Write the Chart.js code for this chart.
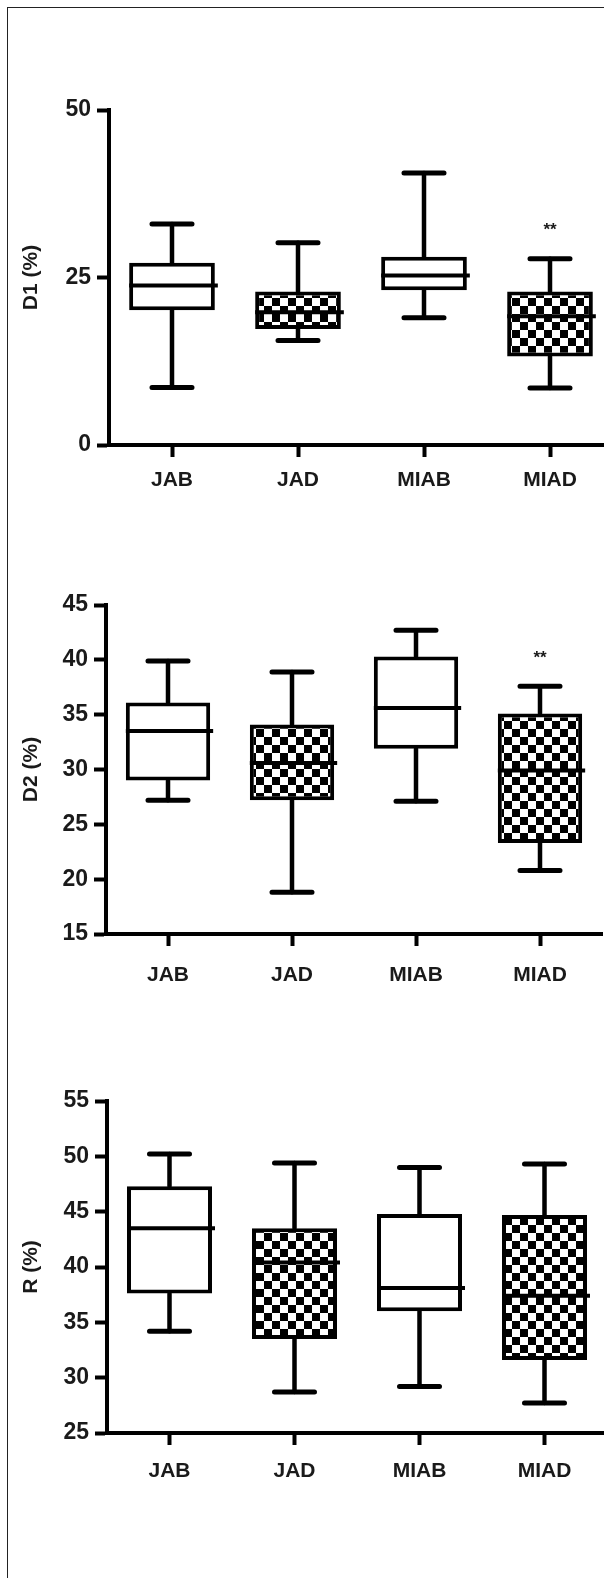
<!DOCTYPE html>
<html lang="en">
<head>
  <meta charset="UTF-8" />
  <title>D1, D2, R box plots</title>
  <style>
    body {
      margin: 0;
      width: 604px;
      height: 1578px;
      overflow: hidden;
      background: #fff;
      position: relative;
    }
    .frame {
      position: absolute;
      left: 7px;
      top: 7px;
      width: 700px;
      height: 1700px;
      border-left: 1px solid #222;
      border-top: 1px solid #222;
    }
    .panel {
      position: absolute;
      left: 0;
    }
  </style>
</head>
<body>
  <div class="frame"></div>
  <div class="panel" style="top:90px"><canvas id="chartD1" width="640" height="405"></canvas></div>
  <div class="panel" style="top:585px"><canvas id="chartD2" width="640" height="399"></canvas></div>
  <div class="panel" style="top:1081px"><canvas id="chartR" width="640" height="402"></canvas></div>

  <script src="https://cdn.jsdelivr.net/npm/chart.js"></script>
  <script>
    // groups
    const categories = ['JAB', 'JAD', 'MIAB', 'MIAD'];

    // D1 (%)
    const d1Min    = [8.6, 15.6, 19.0, 8.5];
    const d1Q1     = [20.1, 17.3, 23.1, 13.2];
    const d1Median = [23.8, 19.8, 25.3, 19.2];
    const d1Q3     = [27.2, 22.9, 28.1, 22.9];
    const d1Max    = [33.0, 30.2, 40.6, 27.8];
    const d1Ticks  = [0, 25, 50];
    const d1Marks  = ['', '', '', '**'];

    // D2 (%)
    const d2Min    = [27.2, 18.8, 27.1, 20.8];
    const d2Q1     = [29.0, 27.2, 31.9, 23.3];
    const d2Median = [33.5, 30.6, 35.6, 29.9];
    const d2Q3     = [36.1, 34.1, 40.3, 35.1];
    const d2Max    = [39.9, 38.9, 42.7, 37.6];
    const d2Ticks  = [15, 20, 25, 30, 35, 40, 45];
    const d2Marks  = ['', '', '', '**'];

    // R (%)
    const rMin    = [34.2, 28.7, 29.2, 27.7];
    const rQ1     = [37.6, 33.5, 36.0, 31.6];
    const rMedian = [43.5, 40.4, 38.1, 37.4];
    const rQ3     = [47.3, 43.5, 44.8, 44.7];
    const rMax    = [50.2, 49.4, 49.0, 49.3];
    const rTicks  = [25, 30, 35, 40, 45, 50, 55];
    const rMarks  = ['', '', '', ''];

    // which boxes get the checkered fill
    const checkered = [false, true, false, true];

    const FONT = "'Liberation Sans', Arial, sans-serif";
    const INK = '#1a1a1a';

    function checkerPattern(size) {
      const c = document.createElement('canvas');
      c.width = c.height = size * 2;
      const g = c.getContext('2d');
      g.fillStyle = '#fff';
      g.fillRect(0, 0, size * 2, size * 2);
      g.fillStyle = '#000';
      g.fillRect(0, 0, size, size);
      g.fillRect(size, size, size, size);
      return g.createPattern(c, 'repeat');
    }
    const checker = checkerPattern(8);

    // whiskers under the boxes, medians and marks on top
    const boxPlotPlugin = {
      id: 'boxParts',
      beforeDatasetsDraw(chart, args, opts) {
        const {ctx, scales: {x, y}} = chart;
        ctx.save();
        ctx.strokeStyle = '#000';
        ctx.lineCap = 'round';
        opts.min.forEach((v, i) => {
          const px = x.getPixelForValue(i);
          ctx.lineWidth = 4.5;
          ctx.beginPath();
          ctx.moveTo(px, y.getPixelForValue(opts.max[i]));
          ctx.lineTo(px, y.getPixelForValue(opts.q3[i]));
          ctx.moveTo(px, y.getPixelForValue(opts.q1[i]));
          ctx.lineTo(px, y.getPixelForValue(v));
          ctx.stroke();
          ctx.lineWidth = 5;
          ctx.beginPath();
          [v, opts.max[i]].forEach(w => {
            const py = y.getPixelForValue(w);
            ctx.moveTo(px - 20, py);
            ctx.lineTo(px + 20, py);
          });
          ctx.stroke();
        });
        ctx.restore();
      },
      afterDatasetsDraw(chart, args, opts) {
        const {ctx, scales: {x, y}} = chart;
        const bars = chart.getDatasetMeta(0).data;
        ctx.save();
        ctx.strokeStyle = '#000';
        ctx.lineWidth = 4;
        opts.median.forEach((v, i) => {
          const b = bars[i];
          const py = y.getPixelForValue(v);
          ctx.beginPath();
          ctx.moveTo(b.x - b.width / 2, py);
          ctx.lineTo(b.x + b.width / 2 + 3, py);
          ctx.stroke();
        });
        ctx.fillStyle = INK;
        ctx.font = 'bold 17px ' + FONT;
        ctx.textAlign = 'center';
        ctx.textBaseline = 'middle';
        opts.marks.forEach((m, i) => {
          if (!m) return;
          ctx.fillText(m, x.getPixelForValue(i), y.getPixelForValue(opts.max[i]) - 28);
        });
        ctx.restore();
      }
    };

    function makePanel(id, title, lo, q1, med, q3, hi, ticks, marks, axisX, padRight, labelPad) {
      new Chart(document.getElementById(id), {
        type: 'bar',
        data: {
          labels: categories,
          datasets: [{
            data: q1.map((v, i) => [v, q3[i]]),
            backgroundColor: checkered.map(c => c ? checker : '#fff'),
            borderColor: '#000',
            borderWidth: 4,
            borderSkipped: false,
            barPercentage: 0.68,
            categoryPercentage: 1
          }]
        },
        plugins: [boxPlotPlugin],
        options: {
          responsive: false,
          devicePixelRatio: 1,
          animation: false,
          layout: {padding: {top: 20, right: padRight, bottom: 0, left: 0}},
          plugins: {
            legend: {display: false},
            tooltip: {enabled: false},
            boxParts: {min: lo, q1: q1, median: med, q3: q3, max: hi, marks: marks}
          },
          scales: {
            x: {
              offset: true,
              grid: {offset: false, drawOnChartArea: false, tickLength: 12, tickWidth: 4, tickColor: '#000'},
              border: {color: '#000', width: 4},
              ticks: {color: INK, font: {family: FONT, size: 21, weight: 'bold'}, padding: labelPad},
              afterFit: s => { s.height = 50; }
            },
            y: {
              min: ticks[0],
              max: ticks[ticks.length - 1],
              afterBuildTicks: s => { s.ticks = ticks.map(v => ({value: v})); },
              grid: {drawOnChartArea: false, tickLength: 12, tickWidth: 4, tickColor: '#000'},
              border: {color: '#000', width: 4},
              ticks: {color: INK, font: {family: FONT, size: 23, weight: 'bold'}, padding: 6},
              title: {display: true, text: title, color: INK, font: {family: FONT, size: 21, weight: 'bold'}, padding: {top: 19}},
              afterFit: s => { s.width = axisX; }
            }
          }
        }
      });
    }

    makePanel('chartD1', 'D1 (%)', d1Min, d1Q1, d1Median, d1Q3, d1Max, d1Ticks, d1Marks, 109, 27, 11);
    makePanel('chartD2', 'D2 (%)', d2Min, d2Q1, d2Median, d2Q3, d2Max, d2Ticks, d2Marks, 106, 38, 17);
    makePanel('chartR', 'R (%)', rMin, rQ1, rMedian, rQ3, rMax, rTicks, rMarks, 107, 33, 14);
  </script>
</body>
</html>
